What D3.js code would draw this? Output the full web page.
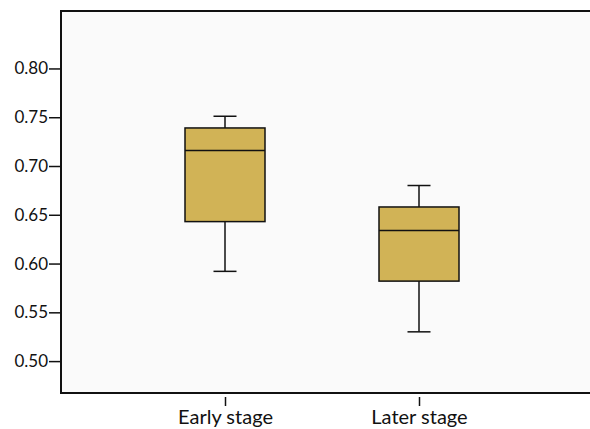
<!DOCTYPE html>
<html>
<head>
<meta charset="utf-8">
<script src="https://cdn.jsdelivr.net/npm/d3@7"></script>
<style>
  body { margin: 0; background: #ffffff; }
  svg text { font-family: Lato, "Open Sans", sans-serif; fill: #111; }
</style>
</head>
<body>
<svg id="chart"></svg>
<script>
// groups on the x axis
var stages = ["Early stage", "Later stage"];
// box plot statistics for each group
var whiskerLow = [0.592, 0.530];
var quart1 = [0.643, 0.582];
var medians = [0.716, 0.634];
var quart3 = [0.739, 0.658];
var whiskerHigh = [0.751, 0.680];
// y tick labels
var yTicks = [0.50, 0.55, 0.60, 0.65, 0.70, 0.75, 0.80];

var screen = {width: 590, height: 429};
var margins = {left: 61, right: -20, top: 11, bottom: 36};

var graph = {
    width: screen.width - margins.left - margins.right,
    height: screen.height - margins.top - margins.bottom
};

var svg = d3.select("#chart")
    .attr("width", screen.width)
    .attr("height", screen.height);

var target = svg.append("g")
    .attr("transform", "translate(" + margins.left + "," + margins.top + ")");

// x positions of the two group centres
var xScale = d3.scalePoint()
    .domain(stages)
    .range([164, 358]);

var yScale = d3.scaleLinear()
    .domain([0.4673, 0.8589])
    .range([graph.height, 0]);

// plot background and frame
target.append("rect")
    .attr("x", 0).attr("y", 0)
    .attr("width", graph.width).attr("height", graph.height)
    .attr("fill", "#fafafa")
    .attr("stroke", "#111")
    .attr("stroke-width", 2);

var rows = stages.map(function(s, i) {
    return {stage: s, lo: whiskerLow[i], q1: quart1[i], med: medians[i], q3: quart3[i], hi: whiskerHigh[i]};
});

var boxW = 80, capW = 23;

var boxes = target.selectAll(".box")
    .data(rows)
    .enter()
    .append("g")
    .attr("class", "box")
    .attr("transform", function(d) { return "translate(" + xScale(d.stage) + ",0)"; });

// whisker stems
boxes.append("line")
    .attr("x1", 0).attr("x2", 0)
    .attr("y1", function(d) { return yScale(d.hi); })
    .attr("y2", function(d) { return yScale(d.q3); })
    .attr("stroke", "#111").attr("stroke-width", 1.5);
boxes.append("line")
    .attr("x1", 0).attr("x2", 0)
    .attr("y1", function(d) { return yScale(d.q1); })
    .attr("y2", function(d) { return yScale(d.lo); })
    .attr("stroke", "#111").attr("stroke-width", 1.5);
// caps
boxes.append("line")
    .attr("x1", -capW / 2).attr("x2", capW / 2)
    .attr("y1", function(d) { return yScale(d.hi); })
    .attr("y2", function(d) { return yScale(d.hi); })
    .attr("stroke", "#111").attr("stroke-width", 1.5);
boxes.append("line")
    .attr("x1", -capW / 2).attr("x2", capW / 2)
    .attr("y1", function(d) { return yScale(d.lo); })
    .attr("y2", function(d) { return yScale(d.lo); })
    .attr("stroke", "#111").attr("stroke-width", 1.5);
// box
boxes.append("rect")
    .attr("x", -boxW / 2)
    .attr("width", boxW)
    .attr("y", function(d) { return yScale(d.q3); })
    .attr("height", function(d) { return yScale(d.q1) - yScale(d.q3); })
    .attr("fill", "#d1b356")
    .attr("stroke", "#111")
    .attr("stroke-width", 1.5);
// median
boxes.append("line")
    .attr("x1", -boxW / 2).attr("x2", boxW / 2)
    .attr("y1", function(d) { return yScale(d.med); })
    .attr("y2", function(d) { return yScale(d.med); })
    .attr("stroke", "#111").attr("stroke-width", 1.5);

// y axis
var yAxis = d3.axisLeft(yScale)
    .tickValues(yTicks)
    .tickFormat(d3.format(".2f"))
    .tickSize(12)
    .tickPadding(1);

var yG = target.append("g").call(yAxis);
yG.select(".domain").remove();
yG.selectAll(".tick line").attr("stroke", "#111").attr("stroke-width", 1.5);
yG.selectAll(".tick text").style("font-size", "17px").attr("fill", "#111");

// x axis
var xAxis = d3.axisBottom(xScale)
    .tickSize(0)
    .tickPadding(0);

var xG = target.append("g")
    .attr("transform", "translate(0," + graph.height + ")")
    .call(xAxis);
xG.select(".domain").remove();
xG.selectAll(".tick line").remove();
xG.selectAll(".tick").append("line")
    .attr("y1", 4).attr("y2", 13)
    .attr("stroke", "#111").attr("stroke-width", 1.5);
xG.selectAll(".tick text")
    .attr("y", 17)
    .attr("dy", "0.71em")
    .style("font-size", "20px")
    .attr("fill", "#111");
</script>
</body>
</html>
